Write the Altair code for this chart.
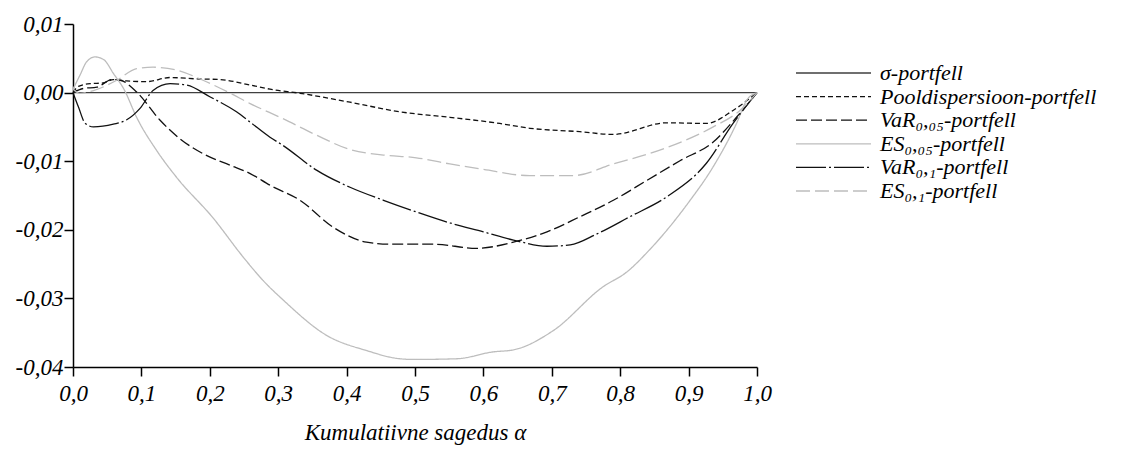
import altair as alt
import pandas as pd

names = ["σ-portfell", "Pooldispersioon-portfell", "VaR₀,₀₅-portfell",
         "ES₀,₀₅-portfell", "VaR₀,₁-portfell", "ES₀,₁-portfell"]
colors = ["#404040", "#111111", "#111111", "#bdbdbd", "#111111", "#bdbdbd"]
dashes = [[1, 0], [5, 3], [11, 4], [1, 0], [30, 3, 2, 3], [14, 5]]

sigma_x = [0.0, 1.0]
sigma_y = [0.0, 0.0]

pool_x = [0.0, 0.008, 0.025, 0.044, 0.059, 0.078, 0.108, 0.142, 0.18, 0.215, 0.259, 0.288,
          0.332, 0.405, 0.478, 0.551, 0.624, 0.668, 0.741, 0.79, 0.868, 0.926, 0.965, 1.0]
pool_y = [0.0, 0.0009, 0.0013, 0.0014, 0.0019, 0.0017, 0.0016, 0.0022, 0.0020, 0.0019, 0.0011, 0.0005,
          -0.0001, -0.0014, -0.0028, -0.0036, -0.0045, -0.0052, -0.0057, -0.0061, -0.0044, -0.0045, -0.0026, 0.0]

var05_x = [0.0, 0.015, 0.035, 0.057, 0.069, 0.093, 0.127, 0.156, 0.19, 0.23, 0.259, 0.288, 0.332,
           0.38, 0.429, 0.463, 0.527, 0.59, 0.644, 0.693, 0.741, 0.79, 0.839, 0.888, 0.936, 0.97, 1.0]
var05_y = [0.0, 0.0006, 0.0008, 0.0019, 0.0018, 0.0001, -0.0040, -0.0067, -0.0089, -0.0106, -0.0118, -0.0135, -0.0157,
           -0.0196, -0.0218, -0.0221, -0.0221, -0.0227, -0.0218, -0.0203, -0.0181, -0.0157, -0.0128, -0.0099, -0.0072, -0.0036, 0.0]

es05_x = [0.0, 0.01, 0.02, 0.032, 0.045, 0.059, 0.075, 0.093, 0.122, 0.151, 0.205, 0.249, 0.278, 0.308,
          0.371, 0.429, 0.478, 0.498, 0.561, 0.614, 0.644, 0.702, 0.775, 0.809, 0.844, 0.9, 0.936, 0.97, 0.985, 1.0]
es05_y = [0.0005, 0.0025, 0.0045, 0.0052, 0.0048, 0.0028, 0.0004, -0.0036, -0.0084, -0.0123, -0.0183, -0.0240, -0.0274, -0.0303,
          -0.0354, -0.0376, -0.0388, -0.0389, -0.0388, -0.0378, -0.0375, -0.0347, -0.0283, -0.0262, -0.0228, -0.0160, -0.0108, -0.0045, -0.0011, 0.0]

var1_x = [0.0, 0.008, 0.018, 0.03, 0.059, 0.078, 0.098, 0.117, 0.142, 0.166, 0.2, 0.239, 0.259, 0.288, 0.307,
          0.356, 0.405, 0.454, 0.502, 0.551, 0.6, 0.644, 0.693, 0.727, 0.766, 0.814, 0.868, 0.926, 0.965, 1.0]
var1_y = [0.0, -0.0021, -0.0045, -0.0050, -0.0046, -0.0040, -0.0023, 0.0003, 0.0013, 0.0011, -0.0006, -0.0028, -0.0043, -0.0065, -0.0077,
          -0.0113, -0.0138, -0.0157, -0.0174, -0.0190, -0.0203, -0.0215, -0.0224, -0.0222, -0.0206, -0.0181, -0.0152, -0.0103, -0.0045, 0.0]

es1_x = [0.0, 0.01, 0.03, 0.064, 0.093, 0.117, 0.151, 0.19, 0.23, 0.259, 0.307, 0.356, 0.405, 0.454,
         0.502, 0.551, 0.6, 0.668, 0.731, 0.79, 0.863, 0.936, 0.975, 1.0]
es1_y = [0.0005, -0.0001, 0.0003, 0.0018, 0.0035, 0.0037, 0.0033, 0.0018, -0.0001, -0.0016, -0.0038, -0.0062, -0.0083, -0.0091,
         -0.0095, -0.0104, -0.0112, -0.0121, -0.0121, -0.0104, -0.0082, -0.0050, -0.0026, 0.0]

x_ticks = [round(i / 10, 1) for i in range(11)]
y_ticks = [-0.04, -0.03, -0.02, -0.01, 0.0, 0.01]

series = [(sigma_x, sigma_y), (pool_x, pool_y), (var05_x, var05_y),
          (es05_x, es05_y), (var1_x, var1_y), (es1_x, es1_y)]
rows = []
for name, (xs, ys) in zip(names, series):
    for xv, yv in zip(xs, ys):
        rows.append({"series": name, "x": xv, "y": yv})
df = pd.DataFrame(rows)

FONT = "'Liberation Serif', 'Times New Roman', Times, serif"
FS = 23
legend = alt.Legend(
    title=None, orient="none", legendX=722, legendY=38,
    symbolType="stroke", symbolSize=5625, symbolStrokeWidth=1.3,
    labelFont=FONT, labelFontSize=22, labelFontStyle="italic", labelColor="#000",
    labelOffset=8, rowPadding=1.6, clipHeight=22, labelLimit=400,
)

chart = alt.Chart(df).mark_line(interpolate="monotone", strokeWidth=1.3).encode(
    x=alt.X("x:Q", scale=alt.Scale(domain=[0, 1], nice=False, zero=False),
            axis=alt.Axis(values=x_ticks, title="Kumulatiivne sagedus α",
                          labelExpr="replace(format(datum.value, '.1f'), '.', ',')",
                          grid=False, domainColor="#000", domainWidth=1.5,
                          tickColor="#000", tickWidth=1.5, tickSize=9,
                          labelFont=FONT, labelFontSize=FS, labelFontStyle="italic", labelColor="#000",
                          labelPadding=6, labelFlush=False,
                          titleFont=FONT, titleFontSize=FS, titleFontStyle="italic",
                          titleFontWeight="normal", titleColor="#000", titlePadding=16)),
    y=alt.Y("y:Q", scale=alt.Scale(domain=[-0.04, 0.01], nice=False, zero=False),
            axis=alt.Axis(values=y_ticks, title=None,
                          labelExpr="(datum.value < 0 ? '-' : '') + replace(format(abs(datum.value), '.2f'), '.', ',')",
                          grid=False, domainColor="#000", domainWidth=1.5,
                          tickColor="#000", tickWidth=1.5, tickSize=9,
                          labelFont=FONT, labelFontSize=FS, labelFontStyle="italic", labelColor="#000",
                          labelPadding=1, labelFlush=False)),
    color=alt.Color("series:N", scale=alt.Scale(domain=names, range=colors), legend=legend),
    strokeDash=alt.StrokeDash("series:N", scale=alt.Scale(domain=names, range=dashes), legend=legend),
).properties(
    width=684, height=343,
    padding={"left": 65, "top": 16, "right": 383, "bottom": 82},
    autosize=alt.AutoSizeParams(type="none"),
).configure_view(stroke=None)

chart.save("out.html", embed_options={"renderer": "svg", "actions": False})
